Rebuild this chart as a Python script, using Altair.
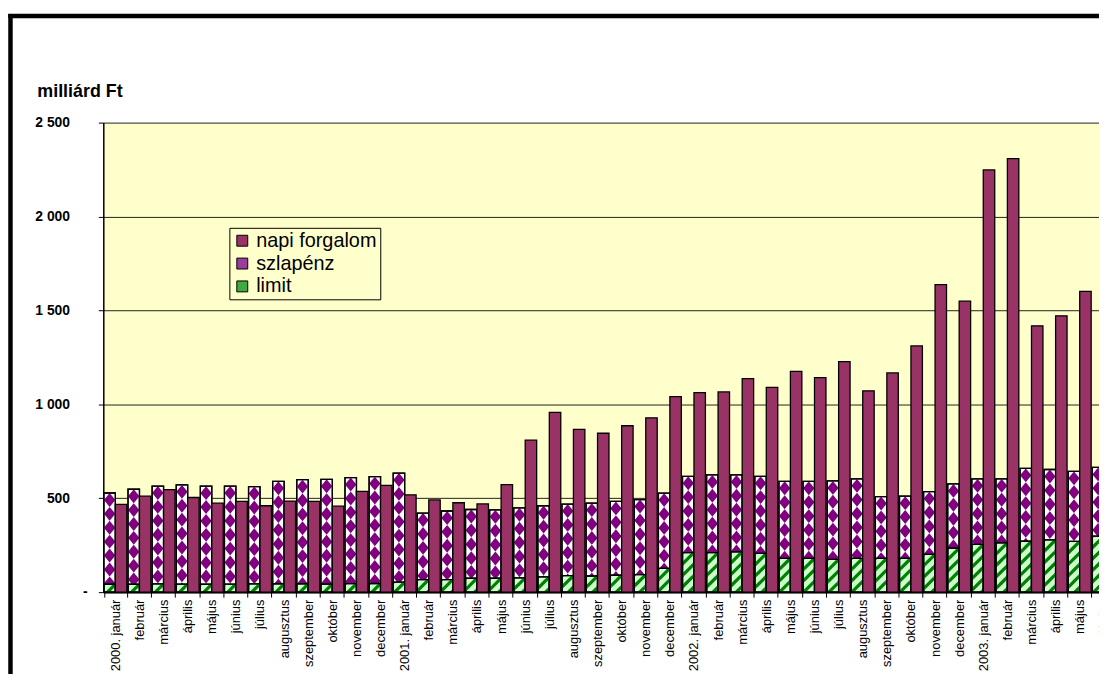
import altair as alt
import pandas as pd

# ---------------- data ----------------
month_labels = [
    "2000. január", "február", "március", "április", "május", "június",
    "július", "augusztus", "szeptember", "október", "november", "december",
    "2001. január", "február", "március", "április", "május", "június",
    "július", "augusztus", "szeptember", "október", "november", "december",
    "2002. január", "február", "március", "április", "május", "június",
    "július", "augusztus", "szeptember", "október", "november", "december",
    "2003. január", "február", "március", "április", "május", "június",
]
napi = [467, 511, 546, 504, 474, 483, 460, 485, 483, 458, 537, 569,
        518, 491, 476, 470, 573, 809, 957, 867, 846, 886, 928, 1041,
        1062, 1066, 1137, 1090, 1176, 1142, 1227, 1072, 1167, 1311, 1637, 1549,
        2248, 2308, 1418, 1471, 1601, 1650]
szla = [528, 548, 565, 571, 564, 565, 562, 590, 599, 601, 610, 615,
        634, 421, 432, 440, 438, 449, 460, 469, 474, 483, 493, 527,
        617, 624, 624, 617, 590, 590, 592, 603, 509, 511, 535, 576,
        603, 603, 659, 653, 643, 664]
limit = [42, 42, 44, 43, 42, 43, 44, 44, 44, 43, 45, 46,
         53, 67, 67, 74, 74, 76, 81, 88, 86, 90, 93, 127,
         211, 210, 215, 206, 180, 180, 174, 180, 180, 180, 201, 234,
         254, 263, 271, 278, 270, 298]
series_names = ["napi forgalom", "szlapénz", "limit"]
y_ticks = [0, 500, 1000, 1500, 2000, 2500]
zero_label = "-"

df = pd.DataFrame({"idx": list(range(len(month_labels))),
                   "napi": napi, "szla": szla, "limit": limit})

# ---------------- geometry / style ----------------
FONT = "Liberation Sans, Arial, sans-serif"
W = 1003          # visible plot width
W_RANGE = 1020    # full category range (plot continues past the window)
H = 473
YMAX = 2500
P_IN, P_OUT = 0.05, 0.025
n = len(month_labels)
step = W_RANGE / (n - P_IN + 2 * P_OUT)
sub = step * (1 - P_IN) / 2          # width of one bar in px
u_per_px = YMAX / H

MAROON = "#993366"
PURPLE = "#800080"
LGREEN = "#ccffcc"
DGREEN = "#008000"

# diamond tile (purple on white), period in px
dia_px = 14.0
dia_half = dia_px / 2 / (sub / 2)
DIAMOND = f"M-1,0L0,{-dia_half:.4f}L1,0L0,{dia_half:.4f}Z"
dia_units = dia_px * u_per_px

# diagonal stripe tile (square, side = bar width)
d = 0.4
STRIPE = (f"M{1-d},-1L1,-1L1,{d-1}L{d-1},1L-1,1L-1,{1-d}Z"
          f"M1,{1-d}L1,1L{1-d},1Z"
          f"M-1,{d-1}L-1,-1L{d-1},-1Z")
str_units = sub * u_per_px

labels_js = "[" + ",".join("'" + s + "'" for s in month_labels) + "]"

x_axis = alt.Axis(
    labelExpr=labels_js + "[datum.value]",
    labelAngle=-90, labelAlign="right", labelBaseline="middle",
    labelFont=FONT, labelFontSize=13, labelColor="black", labelPadding=2,
    labelOverlap=False, labelBound=False, labelFlush=False,
    tickBand="extent", tickSize=5, tickColor="black", tickWidth=1,
    domainColor="black", domainWidth=1.5, grid=False, title=None,
)
x_enc = alt.X("idx:O", scale=alt.Scale(range=[0, W_RANGE], paddingInner=P_IN,
                                       paddingOuter=P_OUT), axis=x_axis)
x_plain = alt.X("idx:O")
xo = alt.XOffset("g:N", scale=alt.Scale(domain=["a", "b"], paddingInner=0,
                                        paddingOuter=0))

y_axis = alt.Axis(
    values=y_ticks, grid=True, gridColor="#222222", gridWidth=1,
    domainColor="black", domainWidth=1.5, tickColor="black", tickSize=5,
    labelFont=FONT, labelFontSize=14, labelFontWeight="bold", labelColor="black",
    labelPadding=29, labelAlign="right",
    labelExpr="datum.value == 0 ? '' : "
              "replace(format(datum.value, ','), ',', ' ')",
    title="milliárd Ft", titleAngle=0, titleAlign="left", titleBaseline="middle",
    titleX=-67, titleY=-31, titleFont=FONT, titleFontSize=18,
    titleFontWeight="bold", titleColor="black",
)
y_scale = alt.Scale(domain=[0, YMAX], nice=False, zero=True)

base = alt.Chart(df)

szla_bar = base.transform_calculate(g="'a'").mark_bar(
    fill="white", stroke="black", strokeWidth=1.3
).encode(x=x_enc, xOffset=xo, y=alt.Y("szla:Q", scale=y_scale, axis=y_axis))

diamonds = base.transform_calculate(
    k=f"sequence(0, ceil(datum.szla / {dia_units:.3f}) + 1)"
).transform_flatten(["k"]).transform_calculate(
    yc=f"datum.szla - {dia_units/2:.3f} - datum.k * {dia_units:.3f}", g="'a'"
).mark_point(shape=DIAMOND, size=sub * sub, filled=True, color=PURPLE,
             opacity=1, strokeWidth=0, clip=True
).encode(x=x_plain, xOffset=xo, y=alt.Y("yc:Q"))

limit_bar = base.transform_calculate(g="'a'").mark_bar(
    fill=LGREEN, stroke="black", strokeWidth=1.3
).encode(x=x_plain, xOffset=xo, y=alt.Y("limit:Q"))

stripes = base.transform_calculate(
    k=f"sequence(0, ceil(datum.limit / {str_units:.3f}) + 1)"
).transform_flatten(["k"]).transform_calculate(
    yc=f"datum.limit - {str_units/2:.3f} - datum.k * {str_units:.3f}", g="'a'"
).mark_point(shape=STRIPE, size=sub * sub, filled=True, color=DGREEN,
             opacity=1, strokeWidth=0, clip=True
).encode(x=x_plain, xOffset=xo, y=alt.Y("yc:Q"))

szla_outline = base.transform_calculate(g="'a'").mark_bar(
    fillOpacity=0, stroke="black", strokeWidth=1.3
).encode(x=x_plain, xOffset=xo, y=alt.Y("szla:Q"))

limit_outline = base.transform_calculate(g="'a'").mark_bar(
    fillOpacity=0, stroke="black", strokeWidth=1.3
).encode(x=x_plain, xOffset=xo, y=alt.Y("limit:Q"))

napi_bar = base.transform_calculate(g="'b'", series="'napi forgalom'").mark_bar(
    stroke="black", strokeWidth=1.3, opacity=1
).encode(
    x=x_plain, xOffset=xo, y=alt.Y("napi:Q"),
    color=alt.Color("series:N",
                    scale=alt.Scale(domain=series_names,
                                    range=[MAROON, "#9a3d9a", "#3faa3f"]),
                    legend=alt.Legend(
                        orient="none", legendX=127, legendY=106, title=None,
                        symbolType="square", symbolSize=121,
                        symbolStrokeColor="black", symbolStrokeWidth=1,
                        symbolOpacity=1,
                        labelFont=FONT, labelFontSize=20, labelColor="black",
                        labelOffset=4, rowPadding=3, padding=3,
                        fillColor="#ffffcc", strokeColor="black",
                    )),
)

# the zero tick label ("-") sits further right, as in the accounting format
zero_txt = alt.Chart(pd.DataFrame({"v": [y_ticks[0]], "t": [zero_label]})).mark_text(
    font=FONT, fontSize=14, fontWeight="bold", color="black",
    align="center", baseline="middle"
).encode(y=alt.Y("v:Q"), x=alt.value(-18), text="t:N")

one = pd.DataFrame({"z": [0]})
frame_v = alt.Chart(one).mark_rule(color="black", strokeWidth=4.5).encode(
    x=alt.value(-93.5), y=alt.value(-109.5), y2=alt.value(H + 300))
frame_h = alt.Chart(one).mark_rule(color="black", strokeWidth=4.5).encode(
    y=alt.value(-107.3), x=alt.value(-95.75), x2=alt.value(W + 50))

chart = alt.layer(
    szla_bar, diamonds, limit_bar, stripes, szla_outline, limit_outline,
    napi_bar, zero_txt, frame_v, frame_h,
).properties(
    width=W, height=H, background="white",
    padding={"left": 96, "top": 113, "right": 0, "bottom": 80},
    autosize=alt.AutoSizeParams(type="none"),
).configure_view(fill="#ffffcc", stroke="transparent")

chart.save("out.html", embed_options={"renderer": "svg", "actions": False})
